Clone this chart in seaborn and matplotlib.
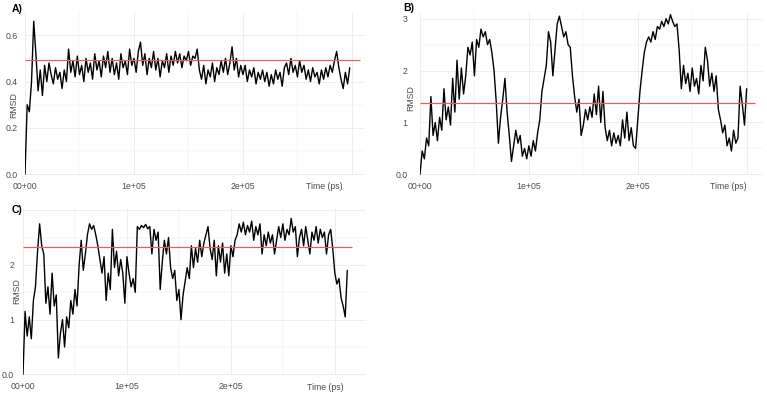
import matplotlib
matplotlib.use('Agg')
import matplotlib.pyplot as plt
import numpy as np
import pandas as pd
import seaborn as sns

# RMSD traces, one value every 2000 ps
step_ps = 2000

rmsd_a = [0.00, 0.30, 0.27, 0.40, 0.66, 0.52, 0.36, 0.45, 0.34, 0.47,
          0.40, 0.48, 0.43, 0.39, 0.46, 0.41, 0.44, 0.37, 0.45, 0.40,
          0.54, 0.44, 0.49, 0.42, 0.51, 0.43, 0.47, 0.40, 0.50, 0.44,
          0.48, 0.41, 0.52, 0.45, 0.49, 0.42, 0.51, 0.46, 0.53, 0.44,
          0.50, 0.43, 0.48, 0.41, 0.52, 0.46, 0.49, 0.43, 0.54, 0.47,
          0.50, 0.44, 0.53, 0.57, 0.47, 0.52, 0.43, 0.50, 0.46, 0.53,
          0.45, 0.50, 0.42, 0.49, 0.46, 0.52, 0.44, 0.51, 0.47, 0.53,
          0.48, 0.52, 0.46, 0.51, 0.49, 0.53, 0.47, 0.51, 0.50, 0.54,
          0.45, 0.41, 0.47, 0.39, 0.45, 0.42, 0.48, 0.40, 0.46, 0.43,
          0.49, 0.44, 0.50, 0.43, 0.48, 0.55, 0.45, 0.50, 0.42, 0.47,
          0.43, 0.47, 0.40, 0.45, 0.42, 0.46, 0.39, 0.44, 0.41, 0.45,
          0.40, 0.44, 0.38, 0.43, 0.39, 0.45, 0.41, 0.44, 0.38, 0.46,
          0.48, 0.43, 0.50, 0.44, 0.47, 0.42, 0.49, 0.44, 0.47, 0.41,
          0.45, 0.40, 0.46, 0.42, 0.44, 0.39, 0.45, 0.41, 0.46, 0.42,
          0.47, 0.44, 0.49, 0.53, 0.46, 0.41, 0.37, 0.44, 0.39, 0.46]

rmsd_b = [0.00, 0.45, 0.30, 0.70, 0.55, 1.50, 0.75, 1.00, 0.65, 1.10,
          0.85, 1.65, 1.05, 1.30, 0.95, 1.85, 1.20, 2.20, 1.45, 2.05,
          1.55, 1.90, 2.45, 2.30, 2.55, 1.90, 2.60, 2.45, 2.80, 2.65,
          2.75, 2.50, 2.60, 2.35, 2.00, 1.40, 0.60, 1.10, 1.45, 1.85,
          1.20, 0.75, 0.25, 0.55, 0.85, 0.60, 0.75, 0.35, 0.50, 0.30,
          0.55, 0.35, 0.65, 0.45, 0.80, 1.05, 1.60, 1.85, 2.10, 2.75,
          2.55, 1.90, 2.40, 2.90, 3.05, 2.85, 2.65, 2.75, 2.50, 2.45,
          1.90, 1.50, 1.20, 1.45, 0.75, 0.95, 1.25, 1.05, 1.30, 1.10,
          1.55, 1.15, 1.70, 1.00, 1.60, 0.90, 0.65, 0.85, 0.55, 0.80,
          0.60, 0.75, 0.55, 1.05, 0.70, 1.20, 0.65, 0.90, 0.55, 0.50,
          1.05, 1.60, 2.00, 2.35, 2.55, 2.65, 2.55, 2.75, 2.60, 2.85,
          2.80, 2.95, 2.85, 3.00, 2.90, 3.08, 2.95, 2.85, 2.90, 2.40,
          1.65, 2.10, 1.75, 1.95, 1.60, 2.05, 1.70, 1.85, 1.55, 2.10,
          1.80, 2.45, 2.20, 1.70, 1.95, 1.60, 1.90, 1.25, 1.05, 0.80,
          0.95, 0.55, 0.70, 0.45, 0.85, 0.60, 0.70, 1.70, 1.35, 0.95,
          1.65]

rmsd_c = [0.00, 1.15, 0.70, 1.05, 0.65, 1.35, 1.60, 2.25, 2.75, 2.35,
          2.20, 1.30, 1.60, 1.10, 1.85, 1.25, 1.45, 0.30, 0.75, 1.00,
          0.50, 1.05, 0.85, 1.35, 1.10, 1.55, 1.25, 2.00, 2.45, 1.90,
          2.20, 2.55, 2.75, 2.65, 2.72, 2.55, 2.35, 2.10, 1.85, 2.15,
          1.35, 1.85, 1.55, 2.65, 1.95, 2.25, 1.80, 2.10, 1.85, 1.30,
          2.15, 1.85, 1.60, 1.75, 1.50, 2.70, 2.65, 2.72, 2.68, 2.74,
          2.66, 2.70, 2.20, 2.65, 2.45, 2.60, 1.55, 2.05, 2.45, 2.20,
          2.50, 1.95, 1.75, 1.90, 1.35, 1.55, 1.00, 1.45, 1.70, 1.95,
          1.75, 2.35, 1.95, 2.30, 2.05, 2.45, 2.15, 2.40, 2.55, 2.70,
          2.30, 2.10, 2.45, 1.80, 2.35, 2.05, 2.40, 1.85, 2.20, 1.80,
          2.35, 2.15, 2.45, 2.55, 2.75, 2.60, 2.78, 2.55, 2.72, 2.60,
          2.80, 2.45, 2.70, 2.55, 2.75, 2.20, 2.55, 2.35, 2.60, 2.40,
          2.55, 2.20, 2.45, 2.70, 2.50, 2.75, 2.45, 2.65, 2.55, 2.85,
          2.60, 2.70, 2.15, 2.50, 2.65, 2.35, 2.70, 2.45, 2.20, 2.60,
          2.45, 2.70, 2.40, 2.65, 2.50, 2.60, 2.20, 2.55, 2.65, 2.30,
          1.85, 1.65, 1.75, 1.40, 1.25, 1.05, 1.90]

# reference (average) RMSD and where its segment ends
ref_rmsd = [0.495, 1.38, 2.33]
ref_end_ps = [3.07e5, 3.08e5, 3.17e5]

panel_names = ['A)', 'B)', 'C)']
x_tick_vals = [0, 1e5, 2e5, 3e5]
x_tick_labels = ['00+00', '1e+05', '2e+05', '']
y_tick_vals = [[0, 0.2, 0.4, 0.6], [0, 1, 2, 3], [0, 1, 2, 3]]
y_tick_labels = [['0.0', '0.2', '0.4', '0.6'], ['0.0', '1', '2', '3'], ['0.0', '1', '2', '']]
y_minor_vals = [[0.1, 0.3, 0.5], [0.5, 1.5, 2.5], [0.5, 1.5, 2.5]]

sns.set_style('white')
plt.rcParams['font.family'] = ['Liberation Sans', 'DejaVu Sans']

W, H = 767, 395
fig = plt.figure(figsize=(W / 100, H / 100), dpi=100)

# panel boxes in pixels: left, top, right, bottom
boxes = [(25, 12, 365, 175), (420, 12, 763, 175), (23, 208, 366, 375)]
xlims = [3.12e5, 3.15e5, 3.30e5]
ylims = [0.70, 3.13, 3.04]
ytick_pad = [5, 9, 6.5]
ylabel_x = [-0.032, -0.026, -0.019]
ylabel_y = [0.43, 0.47, 0.50]
xlabel_x = [0.88, 0.898, 0.88]
title_pos = [(12, 9), (403, 8), (12, 210)]

series = [rmsd_a, rmsd_b, rmsd_c]
grid_col = '#ebebeb'
tick_col = '#4d4d4d'

for i, vals in enumerate(series):
    l, t, r, b = boxes[i]
    ax = fig.add_axes([l / W, 1 - b / H, (r - l) / W, (b - t) / H])
    df = pd.DataFrame({'Time (ps)': np.arange(len(vals)) * step_ps, 'RMSD': vals})
    sns.lineplot(data=df, x='Time (ps)', y='RMSD', ax=ax, color='black', lw=1.0)
    ax.hlines(ref_rmsd[i], 0, ref_end_ps[i], color='#e06060', lw=0.9, zorder=3)

    ax.set_xlim(0, xlims[i])
    ax.set_ylim(-0.004 * ylims[i], ylims[i])
    ax.set_xticks(x_tick_vals)
    ax.set_xticklabels(x_tick_labels)
    ax.set_xticks([0.5e5, 1.5e5, 2.5e5], minor=True)
    ax.set_yticks(y_tick_vals[i])
    ax.set_yticklabels(y_tick_labels[i])
    ax.set_yticks(y_minor_vals[i], minor=True)
    ax.grid(True, which='major', color=grid_col, lw=0.6)
    ax.grid(True, which='minor', color=grid_col, lw=0.35)
    ax.set_axisbelow(True)
    for s in ax.spines.values():
        s.set_visible(False)
    ax.tick_params(axis='x', which='both', length=0, pad=5, labelsize=6.3, labelcolor=tick_col)
    ax.tick_params(axis='y', which='both', length=0, pad=ytick_pad[i], labelsize=6.3, labelcolor=tick_col)

    ax.set_xlabel('Time (ps)', fontsize=6.3, color=tick_col, va='top')
    ax.xaxis.set_label_coords(xlabel_x[i], -7.5 / (b - t))
    ax.set_ylabel('RMSD', fontsize=6.3, color=tick_col, va='center')
    ax.yaxis.set_label_coords(ylabel_x[i], ylabel_y[i])

    tx, ty = title_pos[i]
    fig.text(tx / W, 1 - ty / H, panel_names[i], fontsize=7.5, fontweight='bold',
             ha='left', va='center', color='black')

plt.savefig('out.png', dpi=100)
